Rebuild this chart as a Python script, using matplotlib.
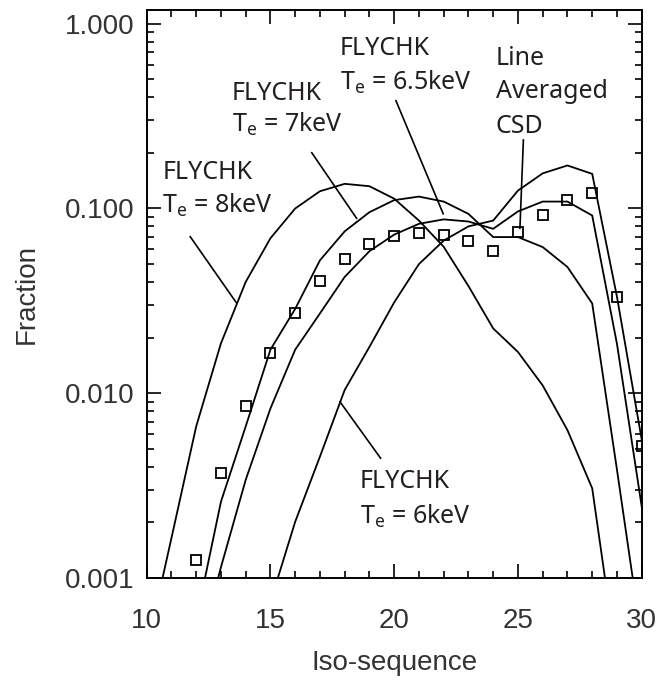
import matplotlib
matplotlib.use('Agg')
import matplotlib.pyplot as plt
from matplotlib.ticker import FixedLocator, MultipleLocator, LogLocator, NullFormatter, FuncFormatter

# ---- data ----
x_8kev = list(range(10, 30))
flychk_8kev = [0.00041, 0.00164, 0.0066, 0.0186, 0.040, 0.069, 0.100, 0.124, 0.136, 0.132,
               0.113, 0.086, 0.062, 0.038, 0.0224, 0.0167, 0.011, 0.0063, 0.00305, 0.00035]

x_7kev = list(range(12, 31))
flychk_7kev = [0.00059, 0.00258, 0.0066, 0.0172, 0.0286, 0.0524, 0.0752, 0.0955, 0.111, 0.116,
               0.109, 0.0935, 0.070, 0.070, 0.0618, 0.0482, 0.0306, 0.00385, 0.00046]

x_65kev = list(range(12, 31))
flychk_65kev = [0.00035, 0.00114, 0.00339, 0.00826, 0.0172, 0.027, 0.0426, 0.0587, 0.0722, 0.0826,
                0.0873, 0.085, 0.0776, 0.0964, 0.109, 0.109, 0.0916, 0.0185, 0.00243]

x_6kev = list(range(15, 31))
flychk_6kev = [0.00074, 0.00201, 0.00453, 0.0104, 0.0178, 0.031, 0.050, 0.067, 0.080, 0.086,
               0.125, 0.155, 0.171, 0.154, 0.0333, 0.0056]

x_csd = list(range(12, 31))
csd = [0.00124, 0.00368, 0.00853, 0.0165, 0.0273, 0.0403, 0.0532, 0.0639, 0.0712, 0.0739,
       0.0717, 0.0666, 0.0588, 0.0745, 0.0925, 0.111, 0.121, 0.0332, 0.0052]

xticks = [10, 15, 20, 25, 30]
yticks = [0.001, 0.01, 0.1, 1.0]
ytick_labels = ['0.001', '0.010', '0.100', '1.000']

# ---- style ----
TICKFONT = 'Liberation Sans'
ANNFONT = 'Noto Sans'
TXT = '#231f20'

fig = plt.figure(figsize=(6.61, 6.81), dpi=100)
ax = fig.add_axes([146.7 / 661, 1 - 577.7 / 681, (641.7 - 146.7) / 661, (577.7 - 10) / 681])

lw = 1.3
for xs, ys in [(x_8kev, flychk_8kev), (x_7kev, flychk_7kev), (x_65kev, flychk_65kev), (x_6kev, flychk_6kev)]:
    ax.plot(xs, ys, color='black', lw=lw, solid_joinstyle='miter')
ax.plot(x_csd, csd, ls='none', marker='s', ms=6.5, mfc='none', mec='black', mew=1.3)

ax.set_yscale('log')
ax.set_xlim(10, 30)
ax.set_ylim(0.001, 1.189)

ax.xaxis.set_major_locator(FixedLocator(xticks))
ax.xaxis.set_minor_locator(MultipleLocator(1))
ax.yaxis.set_major_locator(FixedLocator(yticks))
ax.yaxis.set_major_formatter(FuncFormatter(lambda v, p: ytick_labels[yticks.index(v)] if v in yticks else ''))
ax.yaxis.set_minor_locator(LogLocator(base=10, subs=range(2, 10)))
ax.yaxis.set_minor_formatter(NullFormatter())

ax.tick_params(which='both', direction='in', top=True, right=True, color='black', width=1.2)
ax.tick_params(which='major', length=10)
ax.tick_params(which='minor', length=5)
ax.tick_params(axis='x', which='major', pad=22)
ax.tick_params(axis='y', which='major', pad=9)
for lab in ax.get_xticklabels() + ax.get_yticklabels():
    lab.set_fontfamily(TICKFONT)
    lab.set_fontsize(20)
    lab.set_color('#333333')
for s in ax.spines.values():
    s.set_linewidth(1.4)

ax.set_xlabel('Iso-sequence', fontfamily=TICKFONT, fontsize=20, color='#333333', labelpad=11)
ax.set_ylabel('Fraction', fontfamily=TICKFONT, fontsize=20, color='#333333', labelpad=18)

# ---- annotations ----
def mtext(x, y, s):
    ax.text(x, y, s, fontfamily=ANNFONT, fontsize=18, color=TXT, ha='left', va='baseline')

TE = r'$\mathregular{T_e}$'
mtext(10.66, 0.1445, 'FLYCHK'); mtext(10.62, 0.0942, TE + ' = 8keV')
mtext(13.43, 0.386, 'FLYCHK'); mtext(13.43, 0.2606, TE + ' = 7keV')
mtext(17.81, 0.679, 'FLYCHK'); mtext(17.81, 0.4385, TE + ' = 6.5keV')
mtext(24.11, 0.598, 'Line'); mtext(24.11, 0.395, 'Averaged'); mtext(24.11, 0.255, 'CSD')
mtext(18.62, 0.00305, 'FLYCHK'); mtext(18.62, 0.00197, TE + ' = 6keV')

leaders = [((11.76, 0.0703), (13.62, 0.0309)),
           ((16.67, 0.2004), (18.48, 0.0885)),
           ((20.07, 0.3837), (21.98, 0.0936)),
           ((25.22, 0.235), (25.08, 0.0781)),
           ((17.81, 0.00897), (19.45, 0.00444))]
for (x0, y0), (x1, y1) in leaders:
    ax.plot([x0, x1], [y0, y1], color='black', lw=1.2)

fig.savefig('out.png', dpi=100)
